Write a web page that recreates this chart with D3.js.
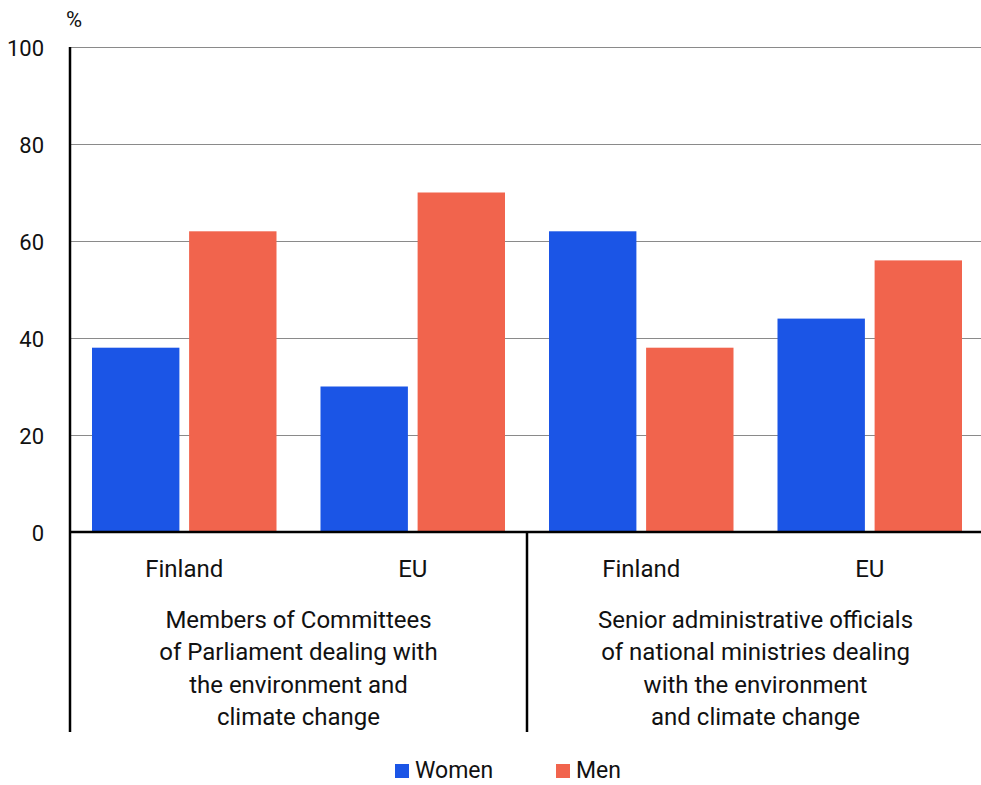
<!DOCTYPE html>
<html><head><meta charset="utf-8">
<script src="https://cdn.jsdelivr.net/npm/d3@7"></script>
<style>body{margin:0;background:#fff}svg{display:block;font-family:Roboto,sans-serif}</style>
</head><body>
<svg id="c" width="981" height="785"></svg>
<script>
const categories = ["Finland","EU","Finland","EU"];
const groups = [
  ["Members of Committees","of Parliament dealing with","the environment and","climate change"],
  ["Senior administrative officials","of national ministries dealing","with the environment","and climate change"]
];
const seriesNames = ["Women","Men"];
const women = [38,30,62,44];
const men = [62,70,38,56];
const yTicks = [0,20,40,60,80,100];
const colors = ["#1b55e6","#f1644d"];

(function(){
const svg = d3.select("#c");
const mLeft = 70, mRight = 984, mTop = 47, mBottom = 532;
const x = d3.scaleBand().domain(d3.range(categories.length)).range([mLeft,mRight]).paddingInner(0).paddingOuter(0);
const y = d3.scaleLinear().domain([0,100]).range([mBottom,mTop]);
const inner = d3.scaleBand().domain([0,1]).range([22, x.bandwidth()-22]).paddingInner(0.1);

svg.append("g").selectAll("line").data(yTicks.filter(d=>d>0)).join("line")
  .attr("x1",mLeft).attr("x2",981).attr("y1",d=>y(d)).attr("y2",d=>y(d))
  .attr("stroke","#8a8a8a").attr("stroke-width",1).attr("shape-rendering","crispEdges");

const data = [women,men];
data.forEach((vals,si)=>{
  svg.append("g").selectAll("rect").data(vals).join("rect")
    .attr("x",(d,i)=>x(i)+inner(si)).attr("width",inner.bandwidth())
    .attr("y",d=>y(d)).attr("height",d=>mBottom-y(d)).attr("fill",colors[si]);
});

svg.append("g").selectAll("text").data(yTicks).join("text")
  .attr("x",44).attr("y",d=>y(d)+9).attr("text-anchor","end")
  .attr("font-size",22).attr("fill","#111").text(d=>d);
svg.append("text").attr("x",66).attr("y",27).attr("font-size",22).attr("fill","#111").text("%");

svg.append("line").attr("x1",mLeft).attr("x2",mLeft).attr("y1",mTop).attr("y2",732).attr("stroke","#000").attr("stroke-width",2.5);
svg.append("line").attr("x1",mLeft).attr("x2",981).attr("y1",mBottom).attr("y2",mBottom).attr("stroke","#000").attr("stroke-width",2.5);
svg.append("line").attr("x1",x(2)).attr("x2",x(2)).attr("y1",mBottom).attr("y2",732).attr("stroke","#000").attr("stroke-width",2.5);

svg.append("g").selectAll("text").data(categories).join("text")
  .attr("x",(d,i)=>x(i)+x.bandwidth()/2).attr("y",577).attr("text-anchor","middle")
  .attr("font-size",24).attr("fill","#111").text(d=>d);

groups.forEach((lines,gi)=>{
  const cx = x(gi*2)+x.bandwidth();
  svg.append("g").selectAll("text").data(lines).join("text")
    .attr("x",cx).attr("y",(d,i)=>628+i*32.3).attr("text-anchor","middle")
    .attr("font-size",24).attr("fill","#111").text(d=>d);
});

const legX = [395,556];
seriesNames.forEach((n,i)=>{
  svg.append("rect").attr("x",legX[i]).attr("y",764).attr("width",14).attr("height",14).attr("fill",colors[i]);
  svg.append("text").attr("x",legX[i]+20).attr("y",778).attr("font-size",23).attr("fill","#111").text(n);
});
})();
</script>
</body></html>
